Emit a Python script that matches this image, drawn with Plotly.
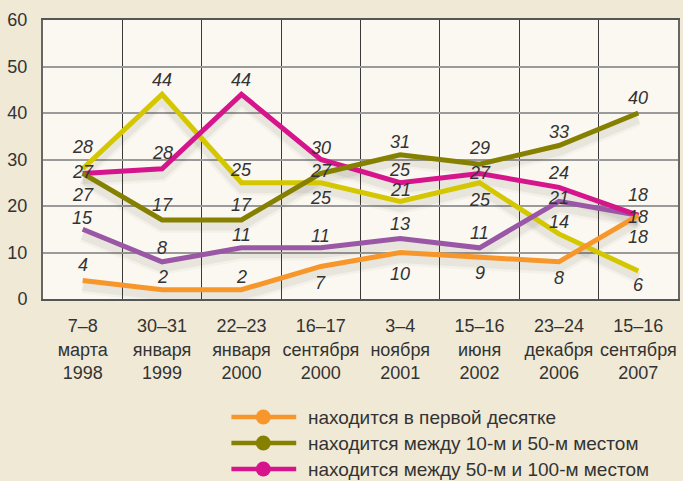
import plotly.graph_objects as go

# ---- data ----
categories = [
    "7–8<br>марта<br>1998",
    "30–31<br>января<br>1999",
    "22–23<br>января<br>2000",
    "16–17<br>сентября<br>2000",
    "3–4<br>ноября<br>2001",
    "15–16<br>июня<br>2002",
    "23–24<br>декабря<br>2006",
    "15–16<br>сентября<br>2007",
]
top10 = [4, 2, 2, 7, 10, 9, 8, 18]
top10_50 = [27, 17, 17, 27, 31, 29, 33, 40]
top50_100 = [27, 28, 44, 30, 25, 27, 24, 18]
series_yellow = [28, 44, 25, 25, 21, 25, 14, 6]
series_purple = [15, 8, 11, 11, 13, 11, 21, 18]

names = [
    "находится в первой десятке",
    "находится между 10-м и 50-м местом",
    "находится между 50-м и 100-м местом",
    "",
    "",
]
y_ticks = [0, 10, 20, 30, 40, 50, 60]

# ---- style ----
C_ORANGE = "#f7962b"
C_OLIVE = "#868000"
C_MAGENTA = "#d6148c"
C_YELLOW = "#d4c700"
C_PURPLE = "#9a57a6"
TXT = "#333333"
NARROW = "Liberation Sans Narrow, Arial Narrow, sans-serif"

# label vertical offsets in pixels (positive = above the point)
shift_orange = [15, 13, 13, -17, -21, -16, -16, -22]
shift_olive = [-22, 15, 15, 2, 13, 16, 14, 15]
shift_magenta = [1, 16, 14, 12, 13, 0, 14, 20]
shift_yellow = [22, 14, 13, -15, 11, -17, 12, -14]
shift_purple = [11, 14, 13, 12, 15, 15, 3, -2]

series = [
    (series_yellow, C_YELLOW, shift_yellow, None),
    (series_purple, C_PURPLE, shift_purple, None),
    (top50_100, C_MAGENTA, shift_magenta, names[2]),
    (top10_50, C_OLIVE, shift_olive, names[1]),
    (top10, C_ORANGE, shift_orange, names[0]),
]

# plot area geometry (pixels)
W, H = 683, 481
L, R, T, B = 43, 3, 20, 182
PW, PH = W - L - R, H - T - B
SHADOW_PX = 6
shadow_d = SHADOW_PX / PH * 60

fig = go.Figure()

# soft shadows (on base axis shifted down a few pixels)
for vals, col, _, _ in series:
    for w, a in ((14, 0.035), (9, 0.06)):
        fig.add_trace(go.Scatter(
            x=categories, y=vals, mode="lines",
            line=dict(color=f"rgba(60,50,30,{a})", width=w, shape="linear"),
            xaxis="x", yaxis="y", hoverinfo="skip", showlegend=False,
        ))

# main lines
for vals, col, _, nm in series:
    fig.add_trace(go.Scatter(
        x=categories, y=vals, mode="lines",
        line=dict(color=col, width=5),
        xaxis="x", yaxis="y2", showlegend=False, name=nm or "",
    ))

# value labels
annotations = []
for vals, col, shifts, _ in series:
    for c, v, s in zip(categories, vals, shifts):
        annotations.append(dict(
            x=c, y=v, xref="x", yref="y2", text=f"<i>{v}</i>",
            showarrow=False, yshift=s, xanchor="center", yanchor="middle",
            font=dict(family=NARROW, size=18, color=TXT),
        ))

# custom legend
def px_x(px):
    return (px - L) / PW

def px_y(py):
    return (T + PH - py) / PH

shapes = []
legend_rows = [(names[0], C_ORANGE, 417), (names[1], C_OLIVE, 443), (names[2], C_MAGENTA, 469)]
for nm, col, py in legend_rows:
    shapes.append(dict(type="line", xref="paper", yref="paper",
                       x0=px_x(232), x1=px_x(297), y0=px_y(py), y1=px_y(py),
                       line=dict(color=col, width=4.5)))
    r = 7.5
    shapes.append(dict(type="circle", xref="paper", yref="paper",
                       x0=px_x(264 - r), x1=px_x(264 + r), y0=px_y(py + r), y1=px_y(py - r),
                       fillcolor=col, line=dict(color=col, width=0)))
    annotations.append(dict(x=px_x(307), y=px_y(py), xref="paper", yref="paper",
                            text=nm, showarrow=False, xanchor="left", yanchor="middle",
                            font=dict(family=NARROW, size=19, color=TXT)))

fig.update_layout(
    width=W, height=H,
    margin=dict(l=L, r=R, t=T, b=B, pad=0),
    paper_bgcolor="#efe9d6",
    plot_bgcolor="#faf8f1",
    showlegend=False,
    xaxis=dict(
        type="category", categoryorder="array", categoryarray=categories,
        range=[-0.5, 7.5], tickson="boundaries", ticks="", tickangle=0,
        showgrid=True, gridcolor="#3a3a3a", gridwidth=1.2,
        showline=True, linecolor="#555555", linewidth=1.5, mirror=True,
        tickfont=dict(family=NARROW, size=18, color=TXT),
        ticklabelstandoff=10, fixedrange=True,
    ),
    yaxis=dict(
        range=[shadow_d, 60 + shadow_d], showgrid=False, showticklabels=False,
        showline=False, zeroline=False, fixedrange=True,
    ),
    yaxis2=dict(
        overlaying="y", side="left", range=[0, 60],
        tickvals=y_ticks, ticktext=[str(t) for t in y_ticks],
        showgrid=True, gridcolor="#9a9a9a", gridwidth=1.5, zeroline=False,
        showline=True, linecolor="#666666", linewidth=2, mirror=True,
        tickfont=dict(family="Liberation Sans, Arial, sans-serif", size=18, color=TXT),
        ticklabelstandoff=10, fixedrange=True,
    ),
    annotations=annotations,
    shapes=shapes,
)

fig.write_html(
    "out.html",
    config={"displayModeBar": False},
    post_script="document.body.style.margin='0';document.body.style.background='#efe9d6';",
)
